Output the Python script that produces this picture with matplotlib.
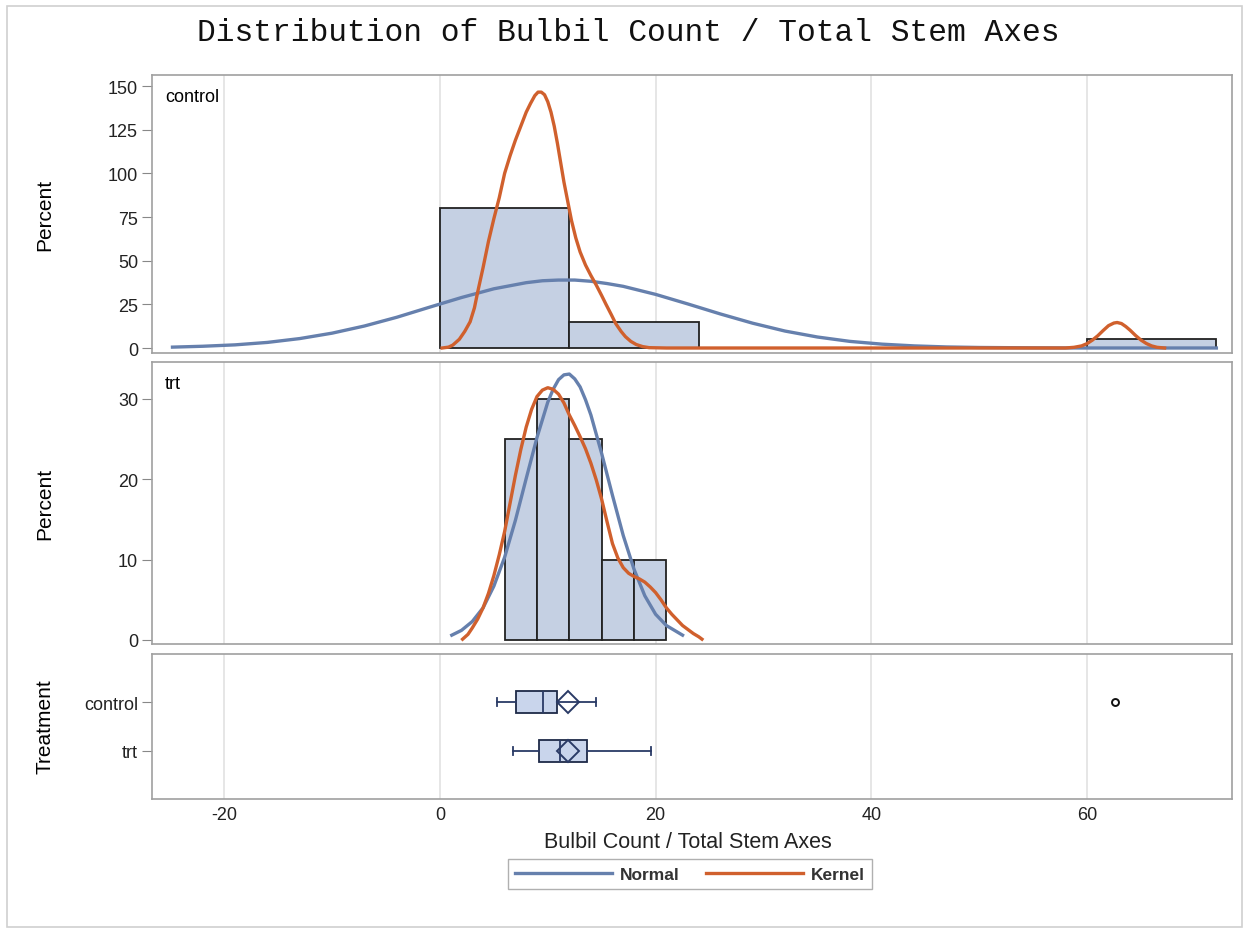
import matplotlib
matplotlib.use("Agg")
import matplotlib.pyplot as plt
from matplotlib.lines import Line2D
from matplotlib.patches import Rectangle

# histogram percents (bins start / width / percent)
ctrl_bin_left = [0, 12, 24, 36, 48, 60]
ctrl_pct = [80, 15, 0, 0, 0, 5]
ctrl_bin_w = 12
trt_bin_left = [6, 9, 12, 15, 18]
trt_pct = [25, 30, 25, 10, 10]
trt_bin_w = 3

# fitted normal curve, control
ctrl_norm_x = [-24.8, -22, -19, -16, -13, -10, -7, -4, -1, 2, 5, 8, 9.5, 11, 12.5, 14, 15.5, 17, 20,
               23, 26, 29, 32, 35, 38, 41, 44, 47, 50, 55, 60, 65, 72]
ctrl_norm_y = [0.5, 1.0, 1.8, 3.2, 5.4, 8.5, 12.6, 17.6, 23.3, 28.9, 33.9, 37.4, 38.5, 38.9, 38.9,
               38.2, 36.9, 35.3, 30.7, 25.2, 19.5, 14.2, 9.7, 6.3, 3.8, 2.2, 1.2, 0.6, 0.3, 0.1,
               0.0, 0.0, 0.0]
# kernel density, control
ctrl_kern_x = [0.2, 0.8, 1.2, 1.8, 2.3, 2.8, 3.2, 3.5, 4.0, 4.5, 5.0, 5.5, 6.0, 6.5, 7.0, 7.5,
               8.0, 8.4, 8.8, 9.1, 9.4, 9.7, 10.0, 10.3, 10.6, 10.9, 11.2, 11.5, 11.85, 12.2,
               12.6, 13.0, 13.5, 14.0, 14.5, 15.0, 15.4, 15.9, 16.3, 16.8, 17.2, 17.7, 18.2,
               18.8, 19.4, 21, 30, 45, 58, 58.8, 59.5, 60, 60.5, 61, 61.5, 62, 62.5, 62.8,
               63.2, 63.6, 64, 64.5, 65, 65.5, 66, 66.5, 67.2]
ctrl_kern_y = [0.0, 0.5, 1.7, 5, 9.5, 15, 23, 32, 46, 61, 74, 86, 100, 110, 119, 127, 135, 140,
               144.5, 146.5, 146.5, 145, 141, 135, 127, 117, 106, 95, 84, 73, 63, 55, 47.5,
               41.5, 36, 30, 25, 19, 14, 9.5, 6.5, 3.8, 2.0, 0.8, 0.2, 0.0, 0.0, 0.0, 0.0,
               0.4, 1.2, 2.5, 4.5, 7.0, 10.0, 12.8, 14.3, 14.6, 14.0, 12.3, 10.2, 7.2, 4.6,
               2.6, 1.2, 0.4, 0.0]

# fitted normal curve, trt
trt_norm_x = [1.1, 2, 3, 4, 5, 6, 7, 8, 9, 10, 10.5, 11, 11.5, 12, 12.5, 13, 13.5, 14, 15, 16,
              17, 18, 19, 20, 21, 22.5]
trt_norm_y = [0.6, 1.2, 2.3, 4.0, 6.7, 10.3, 14.9, 20.1, 25.2, 29.6, 31.2, 32.4, 33.0, 33.1,
              32.5, 31.5, 29.9, 28.0, 23.2, 18.0, 13.0, 8.8, 5.5, 3.2, 1.8, 0.6]
# kernel density, trt
trt_kern_x = [2.1, 2.6, 3, 3.5, 4, 4.5, 5, 5.5, 6, 6.5, 7, 7.5, 8, 8.5, 9, 9.5, 10, 10.5, 11,
              11.5, 12, 12.5, 13, 13.5, 14, 14.5, 15, 15.5, 16, 16.5, 17, 17.5, 18, 18.5, 19,
              19.5, 20, 20.5, 21, 21.5, 22, 22.5, 23, 23.5, 24, 24.3]
trt_kern_y = [0.1, 0.7, 1.5, 2.6, 4.0, 5.8, 8.0, 10.6, 13.5, 17.0, 20.5, 23.7, 26.5, 28.7, 30.3,
              31.1, 31.4, 31.2, 30.6, 29.5, 28.0, 26.7, 25.3, 23.8, 22.0, 19.9, 17.5, 14.7,
              12.0, 10.2, 9.0, 8.3, 7.9, 7.6, 7.2, 6.6, 5.9, 5.0, 4.0, 3.2, 2.5, 1.8, 1.3,
              0.8, 0.4, 0.1]

# box plot summary
groups = ["control", "trt"]
box_lo = [5.26, 6.8]
box_q1 = [7.05, 9.21]
box_med = [9.58, 11.13]
box_q3 = [10.83, 13.61]
box_hi = [14.44, 19.55]
box_mean = [11.9, 11.9]
box_out = [[62.6], []]

c_norm = "#6680ad"
c_kern = "#d0602d"
c_bar = "#c5d0e3"
c_frame = "#a0a0a0"
c_grid = "#e2e2e2"

plt.rcParams["font.family"] = ["Liberation Sans", "DejaVu Sans"]
plt.rcParams["axes.unicode_minus"] = False

fig = plt.figure(figsize=(12.5, 9.37), dpi=100)
fig.patches.append(Rectangle((7 / 1250, 1 - 928 / 937), 1235 / 1250, 921 / 937,
                             transform=fig.transFigure, fill=False, ec="#d0d0d0", lw=1.2))

L, W = 152 / 1250, 1080 / 1250
ax1 = fig.add_axes([L, 1 - 354 / 937, W, 278 / 937])
ax2 = fig.add_axes([L, 1 - 645 / 937, W, 282 / 937], sharex=ax1)
ax3 = fig.add_axes([L, 1 - 800 / 937, W, 145 / 937], sharex=ax1)

for ax in (ax1, ax2, ax3):
    ax.set_xlim(-26.7, 73.45)
    ax.set_xticks([-20, 0, 20, 40, 60])
    ax.grid(axis="x", color=c_grid, lw=1.2)
    ax.set_axisbelow(True)
    for s in ax.spines.values():
        s.set_color(c_frame)
        s.set_linewidth(1.2)
    ax.tick_params(axis="y", length=7, color="#888888", labelsize=13, labelcolor="#222222", pad=3)
    ax.tick_params(axis="x", length=0, labelsize=13, labelcolor="#222222", pad=5)

# control histogram
bl = [b for b, p in zip(ctrl_bin_left, ctrl_pct) if p > 0]
bp = [p for p in ctrl_pct if p > 0]
ax1.bar(bl, bp, width=ctrl_bin_w, align="edge", color=c_bar, ec="#222222", lw=1.3, zorder=2)
ax1.plot(ctrl_norm_x, ctrl_norm_y, color=c_norm, lw=2.4, zorder=3)
ax1.plot(ctrl_kern_x, ctrl_kern_y, color=c_kern, lw=2.4, zorder=4)
ax1.set_ylim(-2.86, 156.3)
ax1.set_yticks([0, 25, 50, 75, 100, 125, 150])
ax1.text(0.012, 0.955, "control", transform=ax1.transAxes, va="top", fontsize=13)
ax1.tick_params(axis="x", labelbottom=False)

# trt histogram
ax2.bar(trt_bin_left, trt_pct, width=trt_bin_w, align="edge", color=c_bar, ec="#222222", lw=1.3, zorder=2)
ax2.plot(trt_norm_x, trt_norm_y, color=c_norm, lw=2.4, zorder=3)
ax2.plot(trt_kern_x, trt_kern_y, color=c_kern, lw=2.4, zorder=4)
ax2.set_ylim(-0.5, 34.6)
ax2.set_yticks([0, 10, 20, 30])
ax2.text(0.012, 0.955, "trt", transform=ax2.transAxes, va="top", fontsize=13)
ax2.tick_params(axis="x", labelbottom=False)

# box plots
stats = []
for i in range(len(groups)):
    stats.append(dict(whislo=box_lo[i], q1=box_q1[i], med=box_med[i], q3=box_q3[i],
                      whishi=box_hi[i], mean=box_mean[i], fliers=box_out[i], label=groups[i]))
ax3.bxp(stats, positions=[1, 2], widths=0.44, orientation="horizontal", showmeans=True,
        patch_artist=True, capwidths=0.16,
        boxprops=dict(facecolor="#c9d5ec", edgecolor="#1e2a48", lw=1.3),
        medianprops=dict(color="#2a3a66", lw=1.3),
        whiskerprops=dict(color="#2a3a66", lw=1.3),
        capprops=dict(color="#2a3a66", lw=1.3),
        meanprops=dict(marker="D", markersize=11, markerfacecolor="none",
                       markeredgecolor="#2a3a66", markeredgewidth=1.4),
        flierprops=dict(marker="o", markersize=5, markerfacecolor="none",
                        markeredgecolor="#111111", markeredgewidth=1.4))
ax3.set_ylim(2.98, 0.02)
ax3.set_yticks([1, 2])
ax3.set_yticklabels(groups)

fig.text(628 / 1250, 1 - 33 / 937, "Distribution of Bulbil Count / Total Stem Axes",
         family="Liberation Mono", fontsize=22.5, ha="center", va="center", color="#111111")
fig.text(45 / 1250, 1 - 215 / 937, "Percent", rotation=90, ha="center", va="center", fontsize=15)
fig.text(45 / 1250, 1 - 504 / 937, "Percent", rotation=90, ha="center", va="center", fontsize=15)
fig.text(45 / 1250, 1 - 727 / 937, "Treatment", rotation=90, ha="center", va="center", fontsize=15)
fig.text(688 / 1250, 1 - 843 / 937, "Bulbil Count / Total Stem Axes", ha="center", va="center",
         fontsize=15.5, color="#222222")

handles = [Line2D([], [], color=c_norm, lw=2.4), Line2D([], [], color=c_kern, lw=2.4)]
leg = fig.legend(handles, ["Normal", "Kernel"], loc="center", ncol=2,
                 bbox_to_anchor=(690 / 1250, 1 - 875 / 937), fontsize=12.5, handlelength=5.6,
                 columnspacing=1.5, handletextpad=0.45, fancybox=False, edgecolor="#b0b0b0",
                 borderpad=0.4, borderaxespad=0, framealpha=1)
for t in leg.get_texts():
    t.set_fontweight("bold")
    t.set_color("#333333")

fig.savefig("out.png", dpi=100)
